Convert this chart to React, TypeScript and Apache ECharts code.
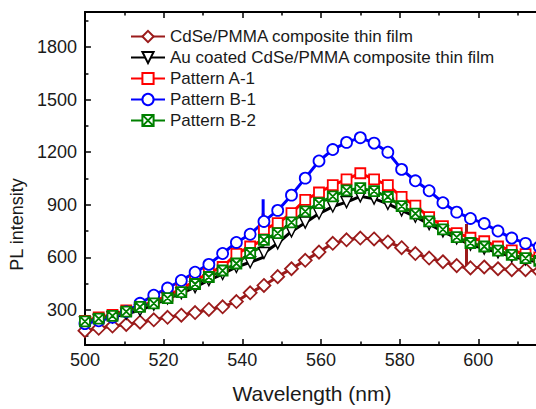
import React, { useEffect, useRef } from 'react';
import * as echarts from 'echarts';

const WAVELENGTHS = [500, 503.5, 507, 510.5, 514, 517.5, 521, 524.5, 528, 531.5, 535, 538.5, 542, 545.5, 549, 552.5, 556, 559.5, 563, 566.5, 570, 573.5, 577, 580.5, 584, 587.5, 591, 594.5, 598, 601.5, 605, 608.5, 612, 615.5];

const CDSE_PMMA = [182, 195, 208, 217, 230, 244, 258, 270, 285, 303, 318, 348, 398, 440, 490, 535, 583, 630, 680, 700, 710, 705, 688, 655, 622, 596, 575, 553, 540, 545, 535, 530, 530, 520];
const AU_COATED = [228, 243, 258, 278, 298, 330, 365, 395, 430, 470, 505, 545, 572, 625, 680, 748, 798, 850, 890, 915, 948, 935, 905, 868, 832, 790, 748, 708, 672, 650, 628, 606, 588, 572];
const PATTERN_A1 = [238, 258, 272, 298, 322, 348, 382, 420, 465, 512, 545, 620, 662, 760, 795, 852, 928, 970, 1012, 1045, 1080, 1045, 1012, 945, 895, 830, 778, 738, 712, 692, 662, 640, 618, 600];
const PATTERN_B1 = [222, 238, 258, 290, 338, 384, 425, 468, 515, 560, 622, 685, 732, 805, 868, 955, 1052, 1150, 1215, 1256, 1283, 1252, 1200, 1102, 1037, 980, 912, 858, 822, 793, 750, 710, 680, 660];
const PATTERN_B2 = [235, 250, 266, 290, 318, 338, 368, 402, 448, 488, 525, 565, 625, 700, 738, 800, 862, 910, 948, 982, 995, 978, 945, 892, 850, 805, 760, 715, 682, 662, 638, 614, 596, 580];

// spikes: [wavelength, base, top]
const SPIKE_CDSE = [597.0, 540, 791];
const SPIKE_AU = [545.3, 600, 640];
const SPIKE_A1 = [545.3, 700, 850];
const SPIKE_B1 = [545.3, 800, 932];
const SPIKE_B2 = [545.3, 665, 765];

const X_MIN = 500;
const X_MAX = 620;
const X_STEP = 20;
const Y_MIN = 100;
const Y_MAX = 2000;
const Y_TICKS = [300, 600, 900, 1200, 1500, 1800];
const Y_MINOR = [150, 450, 750, 1050, 1350, 1650, 1950];

const NAMES = [
  'CdSe/PMMA composite thin film',
  'Au coated CdSe/PMMA composite thin film',
  'Pattern A-1',
  'Pattern B-1',
  'Pattern B-2',
];

const FONT = '"Liberation Sans", Arial, Helvetica, sans-serif';

function buildData(vals: number[], spike: number[]) {
  const pts: any[] = WAVELENGTHS.map((w, i) => ({ value: [w, vals[i]] }));
  const [sx, base, top] = spike;
  const idx = pts.findIndex((p) => p.value[0] > sx);
  const spikePts = [
    { value: [sx, base], symbol: 'none' },
    { value: [sx, top], symbol: 'none' },
    { value: [sx, base], symbol: 'none' },
  ];
  pts.splice(idx, 0, ...spikePts);
  return pts;
}

export default function App() {
  const ref = useRef<HTMLDivElement>(null);
  useEffect(() => {
    if (!ref.current) return;
    const chart = echarts.init(ref.current, undefined, { renderer: 'svg' });
    const mk = (name: string, vals: number[], spike: number[], color: string, symbol: string, size: number, bw = 1.8) => ({
      name,
      type: 'line',
      data: buildData(vals, spike),
      symbol,
      symbolSize: size,
      showAllSymbol: true,
      lineStyle: { color, width: 3 },
      itemStyle: { color: '#fff', borderColor: color, borderWidth: bw },
      emphasis: { disabled: true },
      xAxisIndex: 0,
      yAxisIndex: 0,
      clip: true,
    });
    const axisLine = { show: true, lineStyle: { color: '#000', width: 2 } };
    const option: any = {
      animation: false,
      backgroundColor: '#fff',
      grid: { left: 84, top: 12, bottom: 57, right: 0 },
      legend: {
        orient: 'vertical',
        left: 125,
        top: 23,
        itemWidth: 34,
        itemHeight: 14,
        itemGap: 4,
        selectedMode: false,
        data: NAMES,
        textStyle: { fontSize: 17, color: '#1a1a1a', fontFamily: FONT },
      },
      xAxis: [
        {
          type: 'value',
          min: X_MIN,
          max: X_MAX,
          interval: X_STEP,
          position: 'bottom',
          axisLine,
          axisTick: { show: true, inside: true, length: 6, lineStyle: { color: '#000', width: 1.5 } },
          minorTick: { show: true, splitNumber: 2, length: 3.5, lineStyle: { color: '#000', width: 1.5 } },
          axisLabel: { fontSize: 18, color: '#1a1a1a', margin: 6, fontFamily: FONT, showMaxLabel: false },
          splitLine: { show: false },
          name: 'Wavelength (nm)',
          nameLocation: 'middle',
          nameGap: 38,
          nameTextStyle: { fontSize: 21, color: '#1a1a1a', fontFamily: FONT, padding: [0, 18, 0, 0] },
        },
        {
          type: 'value',
          min: X_MIN,
          max: X_MAX,
          interval: X_STEP,
          position: 'top',
          axisLine,
          axisTick: { show: true, inside: true, length: 6, lineStyle: { color: '#000', width: 1.5 } },
          minorTick: { show: true, splitNumber: 2, length: 3.5, lineStyle: { color: '#000', width: 1.5 } },
          axisLabel: { show: false },
          splitLine: { show: false },
        },
      ],
      yAxis: [
        {
          type: 'value',
          min: Y_MIN,
          max: Y_MAX,
          position: 'left',
          axisLine,
          axisTick: { show: true, inside: true, length: 6, customValues: Y_TICKS, lineStyle: { color: '#000', width: 1.5 } },
          axisLabel: {
            customValues: Y_TICKS,
            formatter: (v: number) => String(v),
            fontSize: 18,
            color: '#1a1a1a',
            margin: 8,
            fontFamily: FONT,
          },
          splitLine: { show: false },
          name: 'PL intensity',
          nameLocation: 'middle',
          nameRotate: 90,
          nameGap: 53,
          nameTextStyle: { fontSize: 18, color: '#1a1a1a', fontFamily: FONT, padding: [0, 92, 0, 0] },
        },
        {
          type: 'value',
          min: Y_MIN,
          max: Y_MAX,
          position: 'left',
          axisLine: { show: false },
          axisTick: { show: true, inside: true, length: 3.5, customValues: Y_MINOR, lineStyle: { color: '#000', width: 1.5 } },
          axisLabel: { show: false },
          splitLine: { show: false },
        },
      ],
      series: [
        mk(NAMES[0], CDSE_PMMA, SPIKE_CDSE, '#9b1b1b', 'diamond', 13),
        mk(NAMES[1], AU_COATED, SPIKE_AU, '#000000', 'path://M0,0L10,0L5,9Z', 11, 1.4),
        mk(NAMES[2], PATTERN_A1, SPIKE_A1, '#ff0000', 'rect', 10),
        mk(NAMES[3], PATTERN_B1, SPIKE_B1, '#0000ff', 'circle', 11),
        mk(NAMES[4], PATTERN_B2, SPIKE_B2, '#008000', 'path://M0,0L10,0L10,10L0,10Z M0,0L10,10 M10,0L0,10', 10),
      ],
    };
    chart.setOption(option);
    return () => chart.dispose();
  }, []);
  return (
    <div
      ref={ref}
      style={{ position: 'fixed', left: 0, top: 0, width: 557, height: 409, background: '#fff' }}
    />
  );
}
